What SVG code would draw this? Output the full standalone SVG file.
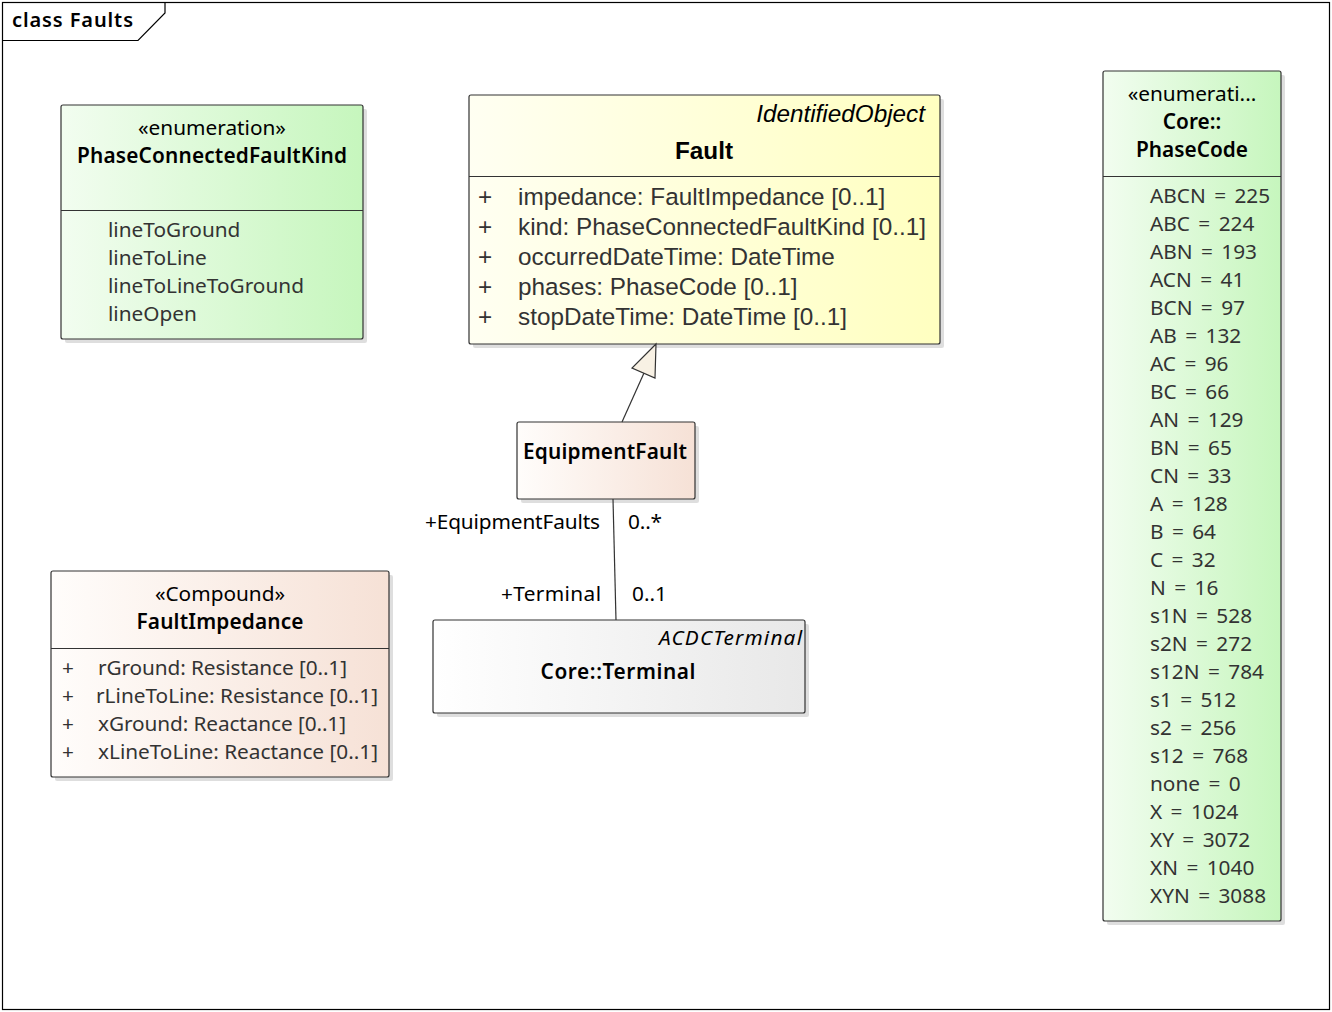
<svg xmlns="http://www.w3.org/2000/svg" width="1332" height="1012" viewBox="0 0 1332 1012">
<defs>
<linearGradient id="gGreen" x1="0" y1="0" x2="1" y2="0"><stop offset="0" stop-color="#f2fdf0"/><stop offset="1" stop-color="#c6f6bd"/></linearGradient>
<linearGradient id="gYellow" x1="0" y1="0" x2="1" y2="0"><stop offset="0" stop-color="#fffff2"/><stop offset="1" stop-color="#ffffc0"/></linearGradient>
<linearGradient id="gSalmon" x1="0" y1="0" x2="1" y2="0"><stop offset="0" stop-color="#fffdfb"/><stop offset="1" stop-color="#f6e1d6"/></linearGradient>
<linearGradient id="gGrey" x1="0" y1="0" x2="1" y2="0"><stop offset="0" stop-color="#ffffff"/><stop offset="1" stop-color="#e8e8e8"/></linearGradient>
<style>
.box{stroke:#333;stroke-width:1.2}
.shadow{fill:#000;opacity:0.13}
.div{stroke:#333;stroke-width:1.2}
.t{font-family:"Noto Sans","Open Sans","DejaVu Sans",sans-serif;font-size:20.8px;fill:#333}
.pc{word-spacing:3px}
.h{font-family:"Noto Sans","Open Sans","DejaVu Sans",sans-serif;font-size:20.8px;fill:#000}
.hb{font-family:"Noto Sans","Open Sans","DejaVu Sans",sans-serif;font-size:20.8px;font-weight:600;fill:#000}
.hi{font-family:"Noto Sans","Open Sans","DejaVu Sans",sans-serif;font-size:20.8px;font-style:italic;fill:#000}
.a{font-family:"Liberation Sans",Arial,sans-serif;font-size:24.3px;fill:#333}
.ab{font-family:"Liberation Sans",Arial,sans-serif;font-size:24.3px;font-weight:bold;fill:#000}
.ai{font-family:"Liberation Sans",Arial,sans-serif;font-size:24.3px;font-style:italic;fill:#000}
.lbl{font-family:"Noto Sans","Open Sans","DejaVu Sans",sans-serif;font-size:20.8px;fill:#000}
.c{stroke:#333;stroke-width:1.2;fill:none}
</style>
</defs>
<rect x="0" y="0" width="1332" height="1012" fill="#fff"/>
<g id="frame">
<rect x="2.5" y="2.5" width="1327" height="1007" fill="none" stroke="#000" stroke-width="1.2"/>
<path d="M2.5 40.5 H138 L165 13 V2.5" fill="none" stroke="#000" stroke-width="1.2"/>
<text x="12" y="27" class="hb" style="font-size:20px" textLength="121">class Faults</text>
</g>

<g id="PhaseConnectedFaultKind">
<rect x="65" y="109" width="302" height="234" class="shadow" rx="2"/>
<rect x="61" y="105" width="302" height="234" fill="url(#gGreen)" class="box" rx="2"/>
<line x1="61" y1="210.5" x2="363" y2="210.5" class="div"/>
<text x="212" y="135" class="h" text-anchor="middle">«enumeration»</text>
<text x="212" y="163" class="hb" text-anchor="middle" textLength="270">PhaseConnectedFaultKind</text>
<text x="108" y="237" class="t">lineToGround</text>
<text x="108" y="265" class="t">lineToLine</text>
<text x="108" y="293" class="t">lineToLineToGround</text>
<text x="108" y="321" class="t">lineOpen</text>
</g>

<g id="Fault">
<rect x="473" y="99" width="471" height="249" class="shadow" rx="2"/>
<rect x="469" y="95" width="471" height="249" fill="url(#gYellow)" class="box" rx="2"/>
<line x1="469" y1="176.5" x2="940" y2="176.5" class="div"/>
<text x="925" y="122" class="ai" text-anchor="end">IdentifiedObject</text>
<text x="704" y="159" class="ab" text-anchor="middle">Fault</text>
<text x="478" y="205" class="a">+</text><text x="518" y="205" class="a">impedance: FaultImpedance [0..1]</text>
<text x="478" y="235" class="a">+</text><text x="518" y="235" class="a">kind: PhaseConnectedFaultKind [0..1]</text>
<text x="478" y="265" class="a">+</text><text x="518" y="265" class="a">occurredDateTime: DateTime</text>
<text x="478" y="295" class="a">+</text><text x="518" y="295" class="a">phases: PhaseCode [0..1]</text>
<text x="478" y="325" class="a">+</text><text x="518" y="325" class="a">stopDateTime: DateTime [0..1]</text>
</g>

<g id="PhaseCode">
<rect x="1107" y="75" width="178" height="850" class="shadow" rx="2"/>
<rect x="1103" y="71" width="178" height="850" fill="url(#gGreen)" class="box" rx="2"/>
<line x1="1103" y1="176.5" x2="1281" y2="176.5" class="div"/>
<text x="1192" y="101" class="h" text-anchor="middle">«enumerati...</text>
<text x="1192" y="129" class="hb" text-anchor="middle">Core::</text>
<text x="1192" y="157" class="hb" text-anchor="middle">PhaseCode</text>
<g class="t pc">
<text x="1150" y="203">ABCN = 225</text>
<text x="1150" y="231">ABC = 224</text>
<text x="1150" y="259">ABN = 193</text>
<text x="1150" y="287">ACN = 41</text>
<text x="1150" y="315">BCN = 97</text>
<text x="1150" y="343">AB = 132</text>
<text x="1150" y="371">AC = 96</text>
<text x="1150" y="399">BC = 66</text>
<text x="1150" y="427">AN = 129</text>
<text x="1150" y="455">BN = 65</text>
<text x="1150" y="483">CN = 33</text>
<text x="1150" y="511">A = 128</text>
<text x="1150" y="539">B = 64</text>
<text x="1150" y="567">C = 32</text>
<text x="1150" y="595">N = 16</text>
<text x="1150" y="623">s1N = 528</text>
<text x="1150" y="651">s2N = 272</text>
<text x="1150" y="679">s12N = 784</text>
<text x="1150" y="707">s1 = 512</text>
<text x="1150" y="735">s2 = 256</text>
<text x="1150" y="763">s12 = 768</text>
<text x="1150" y="791">none = 0</text>
<text x="1150" y="819">X = 1024</text>
<text x="1150" y="847">XY = 3072</text>
<text x="1150" y="875">XN = 1040</text>
<text x="1150" y="903">XYN = 3088</text>
</g>
</g>

<g id="EquipmentFault">
<rect x="521" y="426" width="178" height="77" class="shadow" rx="2"/>
<rect x="517" y="422" width="178" height="77" fill="url(#gSalmon)" class="box" rx="2"/>
<text x="605" y="459" class="hb" text-anchor="middle" textLength="164">EquipmentFault</text>
</g>

<g id="FaultImpedance">
<rect x="55" y="575" width="338" height="206" class="shadow" rx="2"/>
<rect x="51" y="571" width="338" height="206" fill="url(#gSalmon)" class="box" rx="2"/>
<line x1="51" y1="648.5" x2="389" y2="648.5" class="div"/>
<text x="220" y="601" class="h" text-anchor="middle">«Compound»</text>
<text x="220" y="629" class="hb" text-anchor="middle" textLength="167">FaultImpedance</text>
<text x="62" y="675" class="t">+</text><text x="98" y="675" class="t" textLength="249">rGround: Resistance [0..1]</text>
<text x="62" y="703" class="t">+</text><text x="96" y="703" class="t" textLength="282">rLineToLine: Resistance [0..1]</text>
<text x="62" y="731" class="t">+</text><text x="98" y="731" class="t" textLength="248">xGround: Reactance [0..1]</text>
<text x="62" y="759" class="t">+</text><text x="98" y="759" class="t" textLength="280">xLineToLine: Reactance [0..1]</text>
</g>

<g id="Terminal">
<rect x="437" y="624" width="372" height="93" class="shadow" rx="2"/>
<rect x="433" y="620" width="372" height="93" fill="url(#gGrey)" class="box" rx="2"/>
<text x="802" y="645" class="hi" text-anchor="end" textLength="143">ACDCTerminal</text>
<text x="618" y="679" class="hb" text-anchor="middle" textLength="155">Core::Terminal</text>
</g>

<g id="connectors">
<line x1="622" y1="422" x2="644" y2="373" class="c"/>
<polygon points="656,344 632,368 655,378" fill="#f8f1e4" stroke="#333" stroke-width="1.2"/>
<line x1="613" y1="499" x2="616" y2="620" class="c"/>
<text x="600" y="529" class="lbl" text-anchor="end" textLength="175">+EquipmentFaults</text>
<text x="628" y="529" class="lbl" textLength="34">0..*</text>
<text x="601" y="601" class="lbl" text-anchor="end" textLength="100">+Terminal</text>
<text x="632" y="601" class="lbl" textLength="35">0..1</text>
</g>
</svg>
